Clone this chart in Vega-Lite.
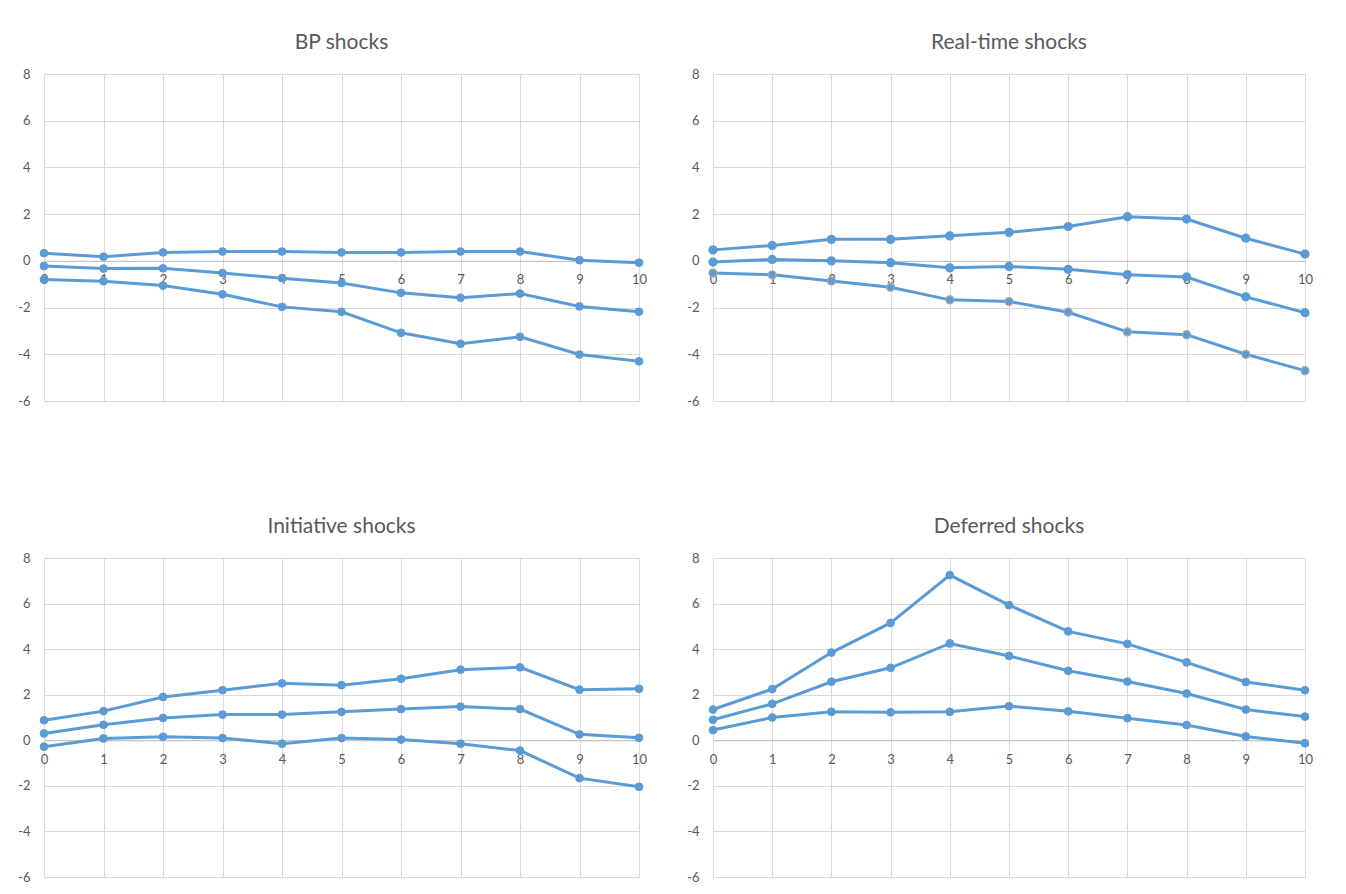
{
  "$schema": "https://vega.github.io/schema/vega-lite/v6.json",
  "autosize": {"type": "pad"},
  "padding": {"left": 17, "top": 32, "right": 0, "bottom": 0},
  "background": "white",
  "config": {
    "view": {"stroke": null},
    "font": "Lato",
    "axis": {"labelFont": "Lato", "labelFontSize": 13, "labelColor": "#595959", "gridColor": "#d9d9d9", "gridWidth": 1, "ticks": false, "title": null, "domain": false},
    "title": {"fontSize": 21, "font": "Lato", "fontWeight": "normal", "color": "#595959", "offset": 15}
  },
  "data": {"values": [
    {"panel":"BP shocks","series":"a","t":0,"value":0.33},{"panel":"BP shocks","series":"a","t":1,"value":0.18},{"panel":"BP shocks","series":"a","t":2,"value":0.36},{"panel":"BP shocks","series":"a","t":3,"value":0.40},{"panel":"BP shocks","series":"a","t":4,"value":0.40},{"panel":"BP shocks","series":"a","t":5,"value":0.36},{"panel":"BP shocks","series":"a","t":6,"value":0.36},{"panel":"BP shocks","series":"a","t":7,"value":0.40},{"panel":"BP shocks","series":"a","t":8,"value":0.40},{"panel":"BP shocks","series":"a","t":9,"value":0.03},{"panel":"BP shocks","series":"a","t":10,"value":-0.08},
    {"panel":"BP shocks","series":"b","t":0,"value":-0.22},{"panel":"BP shocks","series":"b","t":1,"value":-0.33},{"panel":"BP shocks","series":"b","t":2,"value":-0.32},{"panel":"BP shocks","series":"b","t":3,"value":-0.52},{"panel":"BP shocks","series":"b","t":4,"value":-0.74},{"panel":"BP shocks","series":"b","t":5,"value":-0.95},{"panel":"BP shocks","series":"b","t":6,"value":-1.37},{"panel":"BP shocks","series":"b","t":7,"value":-1.58},{"panel":"BP shocks","series":"b","t":8,"value":-1.40},{"panel":"BP shocks","series":"b","t":9,"value":-1.95},{"panel":"BP shocks","series":"b","t":10,"value":-2.18},
    {"panel":"BP shocks","series":"c","t":0,"value":-0.80},{"panel":"BP shocks","series":"c","t":1,"value":-0.87},{"panel":"BP shocks","series":"c","t":2,"value":-1.06},{"panel":"BP shocks","series":"c","t":3,"value":-1.43},{"panel":"BP shocks","series":"c","t":4,"value":-1.97},{"panel":"BP shocks","series":"c","t":5,"value":-2.18},{"panel":"BP shocks","series":"c","t":6,"value":-3.08},{"panel":"BP shocks","series":"c","t":7,"value":-3.55},{"panel":"BP shocks","series":"c","t":8,"value":-3.25},{"panel":"BP shocks","series":"c","t":9,"value":-4.01},{"panel":"BP shocks","series":"c","t":10,"value":-4.30},
    {"panel":"Real-time shocks","series":"a","t":0,"value":0.47},{"panel":"Real-time shocks","series":"a","t":1,"value":0.66},{"panel":"Real-time shocks","series":"a","t":2,"value":0.92},{"panel":"Real-time shocks","series":"a","t":3,"value":0.92},{"panel":"Real-time shocks","series":"a","t":4,"value":1.07},{"panel":"Real-time shocks","series":"a","t":5,"value":1.22},{"panel":"Real-time shocks","series":"a","t":6,"value":1.47},{"panel":"Real-time shocks","series":"a","t":7,"value":1.89},{"panel":"Real-time shocks","series":"a","t":8,"value":1.79},{"panel":"Real-time shocks","series":"a","t":9,"value":0.97},{"panel":"Real-time shocks","series":"a","t":10,"value":0.29},
    {"panel":"Real-time shocks","series":"b","t":0,"value":-0.05},{"panel":"Real-time shocks","series":"b","t":1,"value":0.06},{"panel":"Real-time shocks","series":"b","t":2,"value":0.00},{"panel":"Real-time shocks","series":"b","t":3,"value":-0.08},{"panel":"Real-time shocks","series":"b","t":4,"value":-0.30},{"panel":"Real-time shocks","series":"b","t":5,"value":-0.24},{"panel":"Real-time shocks","series":"b","t":6,"value":-0.36},{"panel":"Real-time shocks","series":"b","t":7,"value":-0.59},{"panel":"Real-time shocks","series":"b","t":8,"value":-0.69},{"panel":"Real-time shocks","series":"b","t":9,"value":-1.54},{"panel":"Real-time shocks","series":"b","t":10,"value":-2.22},
    {"panel":"Real-time shocks","series":"c","t":0,"value":-0.52},{"panel":"Real-time shocks","series":"c","t":1,"value":-0.60},{"panel":"Real-time shocks","series":"c","t":2,"value":-0.86},{"panel":"Real-time shocks","series":"c","t":3,"value":-1.13},{"panel":"Real-time shocks","series":"c","t":4,"value":-1.67},{"panel":"Real-time shocks","series":"c","t":5,"value":-1.74},{"panel":"Real-time shocks","series":"c","t":6,"value":-2.20},{"panel":"Real-time shocks","series":"c","t":7,"value":-3.04},{"panel":"Real-time shocks","series":"c","t":8,"value":-3.16},{"panel":"Real-time shocks","series":"c","t":9,"value":-4.00},{"panel":"Real-time shocks","series":"c","t":10,"value":-4.70},
    {"panel":"Initiative shocks","series":"a","t":0,"value":0.88},{"panel":"Initiative shocks","series":"a","t":1,"value":1.28},{"panel":"Initiative shocks","series":"a","t":2,"value":1.90},{"panel":"Initiative shocks","series":"a","t":3,"value":2.20},{"panel":"Initiative shocks","series":"a","t":4,"value":2.50},{"panel":"Initiative shocks","series":"a","t":5,"value":2.42},{"panel":"Initiative shocks","series":"a","t":6,"value":2.70},{"panel":"Initiative shocks","series":"a","t":7,"value":3.10},{"panel":"Initiative shocks","series":"a","t":8,"value":3.20},{"panel":"Initiative shocks","series":"a","t":9,"value":2.22},{"panel":"Initiative shocks","series":"a","t":10,"value":2.26},
    {"panel":"Initiative shocks","series":"b","t":0,"value":0.30},{"panel":"Initiative shocks","series":"b","t":1,"value":0.68},{"panel":"Initiative shocks","series":"b","t":2,"value":0.98},{"panel":"Initiative shocks","series":"b","t":3,"value":1.13},{"panel":"Initiative shocks","series":"b","t":4,"value":1.13},{"panel":"Initiative shocks","series":"b","t":5,"value":1.25},{"panel":"Initiative shocks","series":"b","t":6,"value":1.37},{"panel":"Initiative shocks","series":"b","t":7,"value":1.48},{"panel":"Initiative shocks","series":"b","t":8,"value":1.37},{"panel":"Initiative shocks","series":"b","t":9,"value":0.26},{"panel":"Initiative shocks","series":"b","t":10,"value":0.11},
    {"panel":"Initiative shocks","series":"c","t":0,"value":-0.28},{"panel":"Initiative shocks","series":"c","t":1,"value":0.08},{"panel":"Initiative shocks","series":"c","t":2,"value":0.15},{"panel":"Initiative shocks","series":"c","t":3,"value":0.10},{"panel":"Initiative shocks","series":"c","t":4,"value":-0.15},{"panel":"Initiative shocks","series":"c","t":5,"value":0.10},{"panel":"Initiative shocks","series":"c","t":6,"value":0.03},{"panel":"Initiative shocks","series":"c","t":7,"value":-0.15},{"panel":"Initiative shocks","series":"c","t":8,"value":-0.45},{"panel":"Initiative shocks","series":"c","t":9,"value":-1.66},{"panel":"Initiative shocks","series":"c","t":10,"value":-2.04},
    {"panel":"Deferred shocks","series":"a","t":0,"value":1.35},{"panel":"Deferred shocks","series":"a","t":1,"value":2.25},{"panel":"Deferred shocks","series":"a","t":2,"value":3.85},{"panel":"Deferred shocks","series":"a","t":3,"value":5.15},{"panel":"Deferred shocks","series":"a","t":4,"value":7.25},{"panel":"Deferred shocks","series":"a","t":5,"value":5.93},{"panel":"Deferred shocks","series":"a","t":6,"value":4.78},{"panel":"Deferred shocks","series":"a","t":7,"value":4.23},{"panel":"Deferred shocks","series":"a","t":8,"value":3.42},{"panel":"Deferred shocks","series":"a","t":9,"value":2.56},{"panel":"Deferred shocks","series":"a","t":10,"value":2.20},
    {"panel":"Deferred shocks","series":"b","t":0,"value":0.90},{"panel":"Deferred shocks","series":"b","t":1,"value":1.60},{"panel":"Deferred shocks","series":"b","t":2,"value":2.57},{"panel":"Deferred shocks","series":"b","t":3,"value":3.18},{"panel":"Deferred shocks","series":"b","t":4,"value":4.25},{"panel":"Deferred shocks","series":"b","t":5,"value":3.70},{"panel":"Deferred shocks","series":"b","t":6,"value":3.05},{"panel":"Deferred shocks","series":"b","t":7,"value":2.58},{"panel":"Deferred shocks","series":"b","t":8,"value":2.05},{"panel":"Deferred shocks","series":"b","t":9,"value":1.35},{"panel":"Deferred shocks","series":"b","t":10,"value":1.04},
    {"panel":"Deferred shocks","series":"c","t":0,"value":0.45},{"panel":"Deferred shocks","series":"c","t":1,"value":1.00},{"panel":"Deferred shocks","series":"c","t":2,"value":1.25},{"panel":"Deferred shocks","series":"c","t":3,"value":1.23},{"panel":"Deferred shocks","series":"c","t":4,"value":1.25},{"panel":"Deferred shocks","series":"c","t":5,"value":1.50},{"panel":"Deferred shocks","series":"c","t":6,"value":1.27},{"panel":"Deferred shocks","series":"c","t":7,"value":0.97},{"panel":"Deferred shocks","series":"c","t":8,"value":0.67},{"panel":"Deferred shocks","series":"c","t":9,"value":0.17},{"panel":"Deferred shocks","series":"c","t":10,"value":-0.13}
  ]},
  "columns": 2,
  "spacing": {"row": 157, "column": 74},
  "bounds": "flush",
  "concat": [
    {
      "title": "BP shocks",
      "width": 595, "height": 327,
      "transform": [{"filter": "datum.panel === 'BP shocks'"}],
      "encoding": {
        "x": {"field": "t", "type": "quantitative", "scale": {"domain": [0, 10], "nice": false}, "axis": {"values": [0,1,2,3,4,5,6,7,8,9,10], "offset": -140.14, "domain": true, "domainColor": "#bfbfbf", "domainWidth": 1, "labelPadding": 13, "labelFlush": false, "labelOverlap": false}},
        "y": {"field": "value", "type": "quantitative", "scale": {"domain": [-6, 8], "nice": false, "zero": false}, "axis": {"values": [-6,-4,-2,0,2,4,6,8], "labelPadding": 14, "labelExpr": "'' + datum.value"}},
        "detail": {"field": "series"}
      },
      "layer": [
        {"mark": {"type": "line", "color": "#5b9bd5", "strokeWidth": 3}},
        {"mark": {"type": "circle", "size": 60, "opacity": 1, "fill": "#5b9bd5", "stroke": "#5b9bd5", "strokeWidth": 1}}
      ]
    },
    {
      "title": "Real-time shocks",
      "width": 592, "height": 327,
      "transform": [{"filter": "datum.panel === 'Real-time shocks'"}],
      "encoding": {
        "x": {"field": "t", "type": "quantitative", "scale": {"domain": [0, 10], "nice": false}, "axis": {"values": [0,1,2,3,4,5,6,7,8,9,10], "offset": -140.14, "domain": true, "domainColor": "#bfbfbf", "domainWidth": 1, "labelPadding": 13, "labelFlush": false, "labelOverlap": false}},
        "y": {"field": "value", "type": "quantitative", "scale": {"domain": [-6, 8], "nice": false, "zero": false}, "axis": {"values": [-6,-4,-2,0,2,4,6,8], "labelPadding": 14, "labelExpr": "'' + datum.value"}},
        "detail": {"field": "series"}
      },
      "layer": [
        {"mark": {"type": "line", "color": "#5b9bd5", "strokeWidth": 3}},
        {"mark": {"type": "circle", "size": 60, "opacity": 1, "fill": "#5b9bd5", "strokeWidth": 1.5},
         "encoding": {"stroke": {"condition": {"test": "datum.series === 'c'", "value": "#a5a5a5"}, "value": "#5b9bd5"}}}
      ]
    },
    {
      "title": "Initiative shocks",
      "width": 595, "height": 319,
      "transform": [{"filter": "datum.panel === 'Initiative shocks'"}],
      "encoding": {
        "x": {"field": "t", "type": "quantitative", "scale": {"domain": [0, 10], "nice": false}, "axis": {"values": [0,1,2,3,4,5,6,7,8,9,10], "offset": -136.71, "domain": true, "domainColor": "#bfbfbf", "domainWidth": 1, "labelPadding": 13, "labelFlush": false, "labelOverlap": false}},
        "y": {"field": "value", "type": "quantitative", "scale": {"domain": [-6, 8], "nice": false, "zero": false}, "axis": {"values": [-6,-4,-2,0,2,4,6,8], "labelPadding": 14, "labelExpr": "'' + datum.value"}},
        "detail": {"field": "series"}
      },
      "layer": [
        {"mark": {"type": "line", "color": "#5b9bd5", "strokeWidth": 3}},
        {"mark": {"type": "circle", "size": 60, "opacity": 1, "fill": "#5b9bd5", "stroke": "#5b9bd5", "strokeWidth": 1}}
      ]
    },
    {
      "title": "Deferred shocks",
      "width": 592, "height": 319,
      "transform": [{"filter": "datum.panel === 'Deferred shocks'"}],
      "encoding": {
        "x": {"field": "t", "type": "quantitative", "scale": {"domain": [0, 10], "nice": false}, "axis": {"values": [0,1,2,3,4,5,6,7,8,9,10], "offset": -136.71, "domain": true, "domainColor": "#bfbfbf", "domainWidth": 1, "labelPadding": 13, "labelFlush": false, "labelOverlap": false}},
        "y": {"field": "value", "type": "quantitative", "scale": {"domain": [-6, 8], "nice": false, "zero": false}, "axis": {"values": [-6,-4,-2,0,2,4,6,8], "labelPadding": 14, "labelExpr": "'' + datum.value"}},
        "detail": {"field": "series"}
      },
      "layer": [
        {"mark": {"type": "line", "color": "#5b9bd5", "strokeWidth": 3}},
        {"mark": {"type": "circle", "size": 60, "opacity": 1, "fill": "#5b9bd5", "stroke": "#5b9bd5", "strokeWidth": 1}}
      ]
    }
  ]
}
